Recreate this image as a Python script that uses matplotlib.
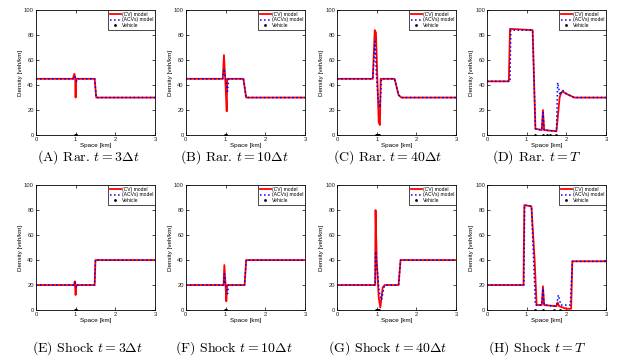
import matplotlib
matplotlib.use('Agg')
import matplotlib.pyplot as plt

plt.rcParams['mathtext.fontset'] = 'cm'
plt.rcParams['font.family'] = ['Liberation Sans', 'DejaVu Sans']

# panel captions
captions = [
    ('A', 'Rar.', '3\\Delta t'), ('B', 'Rar.', '10\\Delta t'),
    ('C', 'Rar.', '40\\Delta t'), ('D', 'Rar.', 'T'),
    ('E', 'Shock', '3\\Delta t'), ('F', 'Shock', '10\\Delta t'),
    ('G', 'Shock', '40\\Delta t'), ('H', 'Shock', 'T'),
]

# (CV) model curves
cv_x = [
    [0, 0.93, 0.97, 0.99, 1.0, 1.01, 1.48, 1.52, 3],
    [0, 0.93, 0.96, 1.0, 1.03, 1.04, 1.45, 1.52, 3],
    [0, 0.9, 0.95, 0.98, 1.02, 1.05, 1.08, 1.1, 1.45, 1.55, 1.62, 3],
    [0, 0.55, 0.58, 1.15, 1.22, 1.38, 1.41, 1.44, 1.75, 1.83, 1.86, 1.9, 2.0, 2.2, 3],
    [0, 0.96, 0.98, 1.0, 1.02, 1.48, 1.5, 3],
    [0, 0.95, 0.97, 1.0, 1.02, 1.04, 1.48, 1.52, 3],
    [0, 0.96, 0.97, 1.0, 1.05, 1.09, 1.12, 1.15, 1.2, 1.55, 1.6, 3],
    [0, 0.92, 0.94, 1.12, 1.2, 1.25, 1.38, 1.41, 1.44, 1.75, 1.78, 1.82, 2.0, 2.12, 2.15, 3],
]
cv_y = [
    [45, 45, 49, 46, 30, 45, 45, 30, 30],
    [45, 45, 64, 40, 19, 45, 45, 30, 30],
    [45, 45, 84, 82, 40, 10, 8, 45, 45, 32, 30, 30],
    [43, 43, 85, 84, 5, 4, 20, 4, 3, 30, 33, 35, 33, 30, 30],
    [20, 20, 23, 12, 20, 20, 40, 40],
    [20, 20, 36, 20, 7, 20, 20, 40, 40],
    [20, 20, 80, 40, 10, 2, 10, 18, 20, 20, 40, 40],
    [20, 20, 84, 83, 40, 4, 4, 19, 4, 3, 6, 3, 1, 1, 39, 39],
]

# (ACVs) model curves
acv_x = [
    [0, 0.95, 0.97, 1.0, 1.03, 1.06, 1.48, 1.52, 3],
    [0, 0.93, 0.96, 1.0, 1.05, 1.08, 1.45, 1.52, 3],
    [0, 0.9, 0.96, 0.99, 1.04, 1.08, 1.12, 1.45, 1.55, 1.62, 3],
    [0, 0.58, 0.6, 1.15, 1.22, 1.38, 1.41, 1.44, 1.75, 1.78, 1.84, 1.9, 2.0, 2.2, 3],
    [0, 0.97, 0.99, 1.02, 1.05, 1.48, 1.5, 3],
    [0, 0.95, 0.97, 1.0, 1.05, 1.08, 1.48, 1.52, 3],
    [0, 0.96, 0.97, 0.99, 1.02, 1.06, 1.12, 1.18, 1.22, 1.55, 1.6, 3],
    [0, 0.93, 0.95, 1.12, 1.22, 1.38, 1.41, 1.44, 1.75, 1.8, 1.86, 2.1, 2.15, 3],
]
acv_y = [
    [45, 45, 47, 45, 43, 45, 45, 30, 30],
    [45, 45, 53, 45, 35, 45, 45, 30, 30],
    [45, 45, 75, 48, 28, 22, 45, 45, 32, 30, 30],
    [43, 43, 84, 84, 5, 4, 18, 4, 3, 42, 32, 36, 33, 30, 30],
    [20, 20, 22, 18, 20, 20, 40, 40],
    [20, 20, 29, 20, 13, 20, 20, 40, 40],
    [20, 20, 47, 38, 30, 15, 8, 18, 20, 20, 40, 40],
    [20, 20, 84, 83, 4, 4, 17, 4, 3, 12, 4, 4, 39, 39],
]

# vehicle positions (drawn at density 0)
veh_x = [
    [0.99, 1.0, 1.01],
    [0.99, 1.0, 1.01],
    [0.97, 1.0, 1.03, 1.05],
    [1.2, 1.4, 1.5, 1.6, 1.75],
    [0.99, 1.0, 1.01],
    [0.99, 1.0, 1.01],
    [0.97, 1.0, 1.03, 1.05],
    [1.2, 1.4, 1.7, 1.85],
]

fig = plt.figure(figsize=(6.3, 3.62), dpi=100)

lefts = [0.057, 0.295, 0.535, 0.773]
bottoms = [0.627, 0.1436]
cap_x = [88, 234, 388, 537]
cap_y = [0.566, 0.038]

for i in range(8):
    row, col = divmod(i, 4)
    ax = fig.add_axes([lefts[col], bottoms[row], 0.189, 0.345])
    ax.plot(cv_x[i], cv_y[i], color='red', lw=1.3, label='(CV) model')
    ax.plot(acv_x[i], acv_y[i], color='blue', lw=1.1, ls=':', label='(ACVs) model')
    ax.plot(veh_x[i], [0] * len(veh_x[i]), 'k.', ms=2, label='Vehicle')
    ax.set_xlim(0, 3)
    ax.set_ylim(0, 100)
    ax.set_xticks([0, 1, 2, 3])
    ax.set_yticks([0, 20, 40, 60, 80, 100])
    ax.tick_params(direction='in', length=2, width=0.5, labelsize=4.2, pad=1.5,
                   top=True, right=True, labelcolor='#222222')
    for s in ax.spines.values():
        s.set_linewidth(0.6)
    ax.set_xlabel('Space [km]', fontsize=4.5, labelpad=1)
    ax.set_ylabel('Density [veh/km]', fontsize=4.5, labelpad=1)
    leg = ax.legend(loc='upper right', fontsize=3.6, handlelength=2.2,
                    borderpad=0.3, labelspacing=0.15, handletextpad=0.3,
                    borderaxespad=0.0, fancybox=False, framealpha=1,
                    edgecolor='black')
    leg.get_frame().set_linewidth(0.5)

    letter, kind, tval = captions[i]
    fig.text(cap_x[col] / 630, cap_y[row],
             '(' + letter + ') ' + kind + ' $t = ' + tval + '$',
             ha='center', va='center', fontsize=10, family='cmr10')

fig.savefig('out.png', dpi=100)
